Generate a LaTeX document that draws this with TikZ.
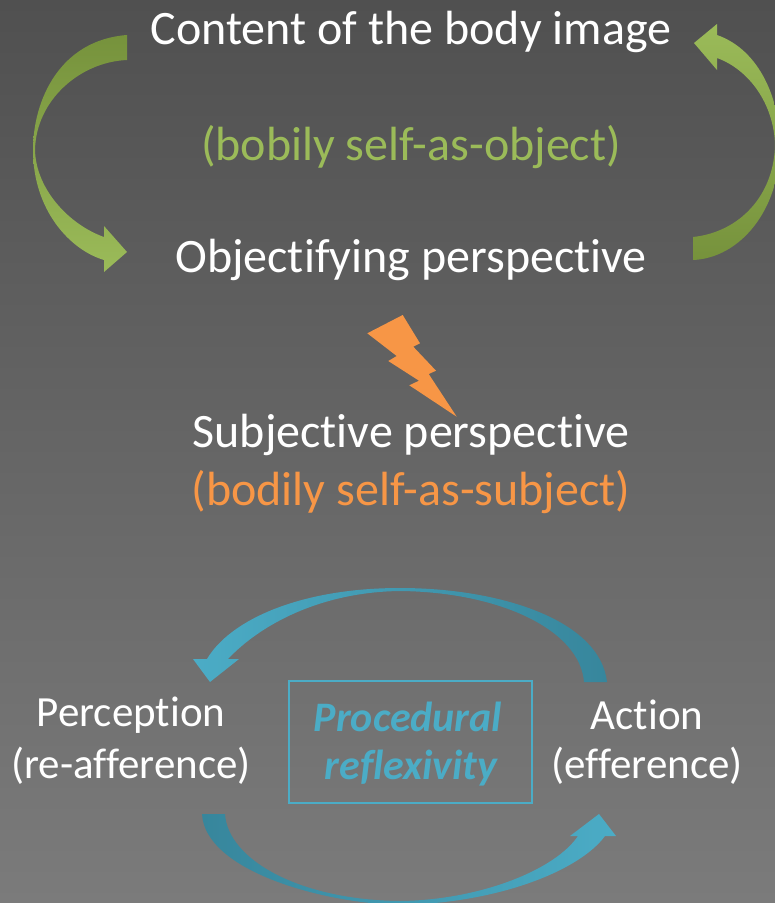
\documentclass[tikz,border=0pt]{standalone}
\usepackage{fontspec}
\setmainfont{Carlito}[Ligatures=NoCommon]
\definecolor{bgtop}{RGB}{80,80,80}
\definecolor{bgbot}{RGB}{123,123,123}
\definecolor{grnL}{RGB}{155,187,89}
\definecolor{grnD}{RGB}{118,146,60}
\definecolor{orng}{RGB}{247,150,70}
\definecolor{tealL}{RGB}{75,172,198}
\definecolor{tealD}{RGB}{55,134,156}
\tikzset{
  bigtxt/.style={font=\fontsize{48}{56}\selectfont, inner sep=0pt, anchor=center},
  smtxt/.style={font=\fontsize{43}{50}\selectfont, inner sep=0pt, anchor=center, text=white},
}
\begin{document}
\begin{tikzpicture}[x=1pt,y=-1pt]
\shade[top color=bgtop,bottom color=bgbot] (0,0) rectangle (775,903);
\useasboundingbox (0,0) rectangle (775,903);
% texts
\node[bigtxt,text=white] (content) at (411,32) {Content of the body image};
\node[bigtxt,text=grnL] (object) at (411,147) {(bobily self-as-object)};
\node[bigtxt,text=white] (objpersp) at (411,260) {Objectifying perspective};
\node[bigtxt,text=white] (subj) at (411,435) {Subjective perspective};
\node[bigtxt,text=orng] (subjb) at (411,492) {(bodily self-as-subject)};
\node[smtxt] (perc) at (131,715) {Perception};
\node[smtxt] (perca) at (131,766) {(re-afference)};
\node[smtxt] (act) at (647,715) {Action};
\node[smtxt] (acte) at (647,766) {(efference)};
\node[draw=tealL, line width=2pt, minimum width=243pt, minimum height=122pt, inner sep=0pt] (box) at (410.5,742) {};
\node[smtxt,text=tealL,font=\fontsize{42}{50}\selectfont\bfseries\itshape] (proc) at (408,717) {Procedural};
\node[smtxt,text=tealL,font=\fontsize{42}{50}\selectfont\bfseries\itshape] (refl) at (411,768) {reflexivity};
% left green arrow
\shade[top color=grnD, bottom color=grnL]
 (127,35) .. controls (60,40) and (33,100) .. (33,150)
 .. controls (33,210) and (70,250) .. (104,260)
 -- (104,272) -- (127,252) -- (104,226) -- (104,237)
 .. controls (70,225) and (36,190) .. (35,150)
 .. controls (36,100) and (80,62) .. (127,60) -- cycle;
% right green arrow
\shade[top color=grnL, bottom color=grnD]
 (693,260) .. controls (740,258) and (780,210) .. (780,145)
 .. controls (780,100) and (760,50) .. (717,35)
 -- (717,24) -- (694,43) -- (717,70) -- (717,58)
 .. controls (750,70) and (774,105) .. (775,145)
 .. controls (774,195) and (740,232) .. (693,237) -- cycle;
% lightning
\fill[orng] (367.3,333.3) -- (402.7,315) -- (420,343.3) -- (413.3,346.7) -- (436,370.7)
 -- (428.7,374) -- (456.7,416.7) -- (409.3,385.3) -- (419,380.7) -- (388.3,361)
 -- (396.7,356) -- cycle;
% top teal arrow
\shade[left color=tealL, right color=tealD]
 (607,682) .. controls (600,620) and (500,588) .. (400,588)
 .. controls (300,588) and (230,620) .. (207,659)
 -- (193,659) -- (210,682) -- (239,659) -- (228,659)
 .. controls (260,625) and (320,592) .. (400,591)
 .. controls (500,592) and (580,630) .. (584,682) -- cycle;
% bottom teal arrow
\shade[left color=tealD, right color=tealL]
 (202,814) .. controls (205,870) and (320,903) .. (400,905)
 .. controls (500,903) and (580,870) .. (605,836)
 -- (616,836) -- (599,814) -- (570,836) -- (578,836)
 .. controls (555,870) and (480,900) .. (400,901)
 .. controls (300,900) and (228,860) .. (225,814) -- cycle;
\end{tikzpicture}
\end{document}
